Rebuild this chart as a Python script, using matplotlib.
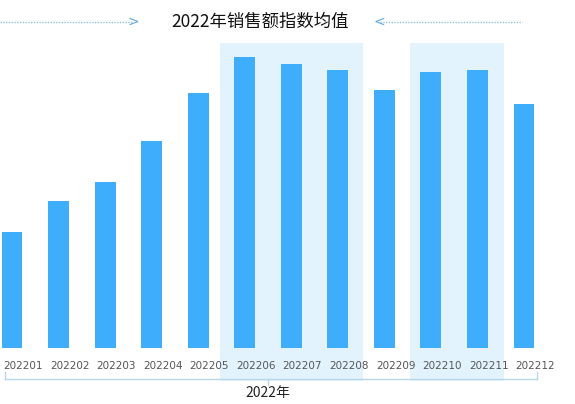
import matplotlib
matplotlib.use("Agg")
import matplotlib.pyplot as plt
from matplotlib.lines import Line2D

plt.rcParams['font.family'] = ['Noto Sans CJK SC', 'DejaVu Sans']

months = ["202201","202202","202203","202204","202205","202206",
          "202207","202208","202209","202210","202211","202212"]
values = [116, 147, 166, 207, 255, 291, 284, 278, 258, 276, 278, 244]
title = "2022年销售额指数均值"
group_label = "2022年"

W, H = 575, 404
fig = plt.figure(figsize=(W/100, H/100), dpi=100)
left = -11.3
ax = fig.add_axes([left/W, 56/H, 558.6/W, 305/H])
ax.set_xlim(-0.5, 11.5)
ax.set_ylim(0, 305)
for s in ax.spines.values():
    s.set_visible(False)
ax.set_yticks([])
ax.set_xticks([])

ymin = (348-381)/305
for a, b in [(4.47, 7.54), (8.55, 10.57)]:
    ax.axvspan(a, b, ymin=ymin, ymax=1, color='#e3f3fd', zorder=0, clip_on=False, lw=0)

ax.bar(range(12), values, width=0.45, color='#3eaefc', zorder=2)
ax.axhline(0, color='#e6e6e6', lw=0.8, zorder=1)

for i, m in enumerate(months):
    ax.text(i + 0.24, -18, m, ha='center', va='center', fontsize=7.5, color='#555555',
            family=['DejaVu Sans'], clip_on=False)

# bracket
fy = lambda y: 1 - y/H
fx = lambda x: x/W
fig.add_artist(Line2D([fx(5), fx(537)], [fy(379), fy(379)], color='#b8d8ea', lw=1))
fig.add_artist(Line2D([fx(5), fx(5)], [fy(372), fy(379)], color='#b8d8ea', lw=1))
fig.add_artist(Line2D([fx(537), fx(537)], [fy(372), fy(379)], color='#b8d8ea', lw=1))
fig.add_artist(Line2D([fx(268), fx(268)], [fy(379), fy(385)], color='#b8d8ea', lw=1))
fig.text(fx(268), fy(393), group_label, ha='center', va='center', fontsize=10, color='#222222')

# title
fig.text(fx(260), fy(22), title, ha='center', va='center', fontsize=12.5, color='#111111')
fig.add_artist(Line2D([fx(0), fx(133)], [fy(22), fy(22)], color='#8fc3e0', lw=1, ls=(0, (1, 1))))
fig.text(fx(133), fy(22), ">", ha='center', va='center', fontsize=10, color='#6aaed6',
         family=['DejaVu Sans'])
fig.add_artist(Line2D([fx(380), fx(522)], [fy(22), fy(22)], color='#8fc3e0', lw=1, ls=(0, (1, 1))))
fig.text(fx(379), fy(22), "<", ha='center', va='center', fontsize=10, color='#6aaed6',
         family=['DejaVu Sans'])

fig.savefig("out.png", dpi=100)
